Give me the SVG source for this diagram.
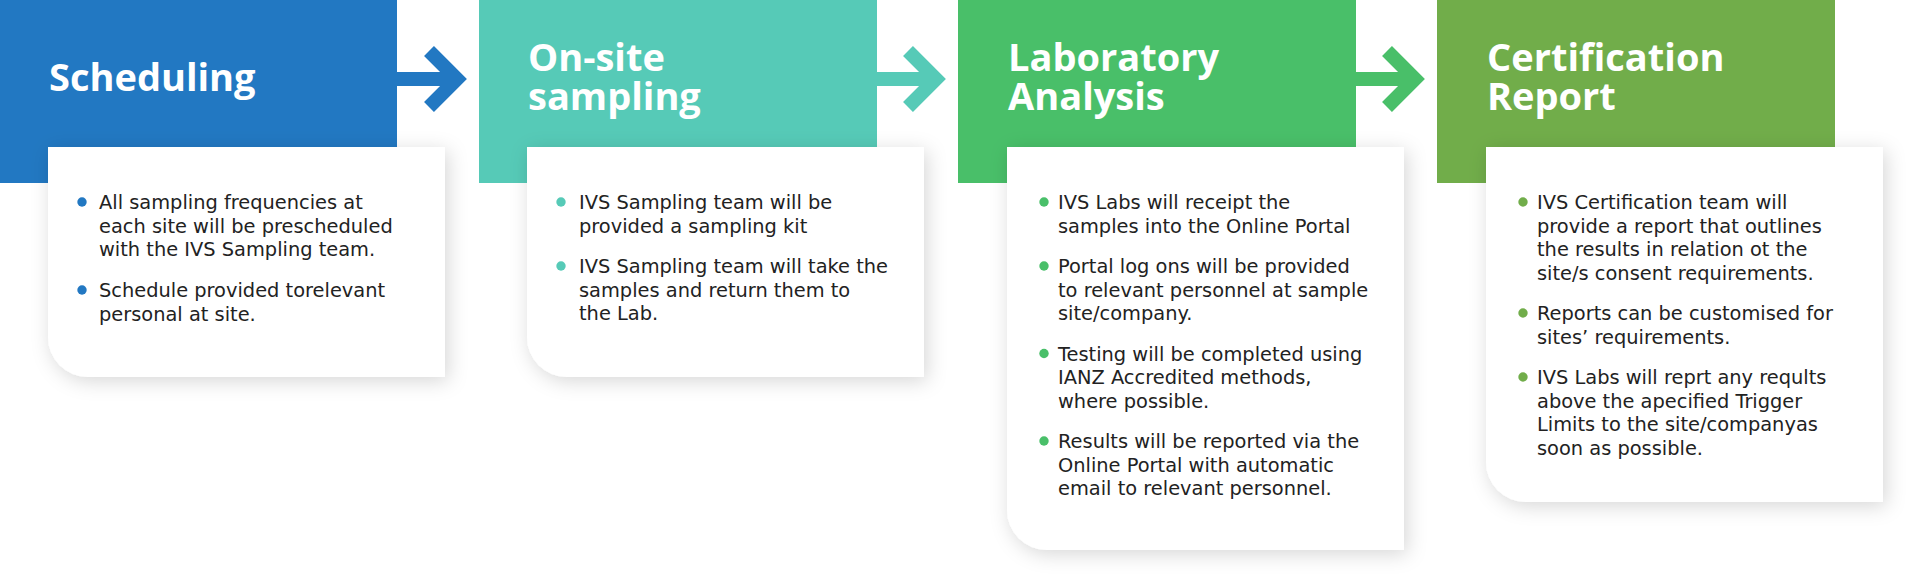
<svg xmlns="http://www.w3.org/2000/svg" width="1920" height="587" viewBox="0 0 1920 587">
<defs>
<filter id="sh" x="-20%" y="-20%" width="140%" height="140%">
<feDropShadow dx="3" dy="4" stdDeviation="10" flood-color="#000" flood-opacity="0.16"/>
</filter>
</defs>
<style>
.title{font-family:"Open Sans","Liberation Sans",sans-serif;font-weight:700;font-size:38px;fill:#fff}
.body{font-family:"DejaVu Sans","Liberation Sans",sans-serif;font-size:19.4px;fill:#222}
.card{fill:#fff;filter:url(#sh)}
.arr{fill:none;stroke-width:14}
.c1{fill:#2278C2}.s1{stroke:#2278C2}
.c2{fill:#56CAB7}.s2{stroke:#56CAB7}
.c3{fill:#49BF69}.s3{stroke:#49BF69}
.c4{fill:#71AD4A}
</style>
<rect width="1920" height="587" fill="#fff"/>
<g id="connectors">
<path class="arr s1" d="M397 79H458M429 51L457 79L429 107"/>
<path class="arr s2" d="M877 79H937M908 51L936 79L908 107"/>
<path class="arr s3" d="M1356 79H1416M1387 51L1415 79L1387 107"/>
</g>
<g id="scheduling">
<rect class="c1" x="0" y="0" width="397" height="183"/>
<text class="title" x="49" y="91">Scheduling</text>
<path class="card" d="M48 147H445V377H88A40 40 0 0 1 48 337Z"/>
<circle class="c1" cx="82" cy="202" r="4.7"/>
<text class="body" x="99" y="209">All sampling frequencies at</text>
<text class="body" x="99" y="232.5">each site will be prescheduled</text>
<text class="body" x="99" y="256">with the IVS Sampling team.</text>
<circle class="c1" cx="82" cy="290" r="4.7"/>
<text class="body" x="99" y="297">Schedule provided torelevant</text>
<text class="body" x="99" y="320.5">personal at site.</text>
</g>
<g id="onsite">
<rect class="c2" x="479" y="0" width="398" height="183"/>
<text class="title"><tspan x="528" y="71">On-site</tspan><tspan x="528" y="110">sampling</tspan></text>
<path class="card" d="M527 147H924V377H567A40 40 0 0 1 527 337Z"/>
<circle class="c2" cx="561" cy="202" r="4.7"/>
<text class="body" x="579" y="209">IVS Sampling team will be</text>
<text class="body" x="579" y="232.5">provided a sampling kit</text>
<circle class="c2" cx="561" cy="266" r="4.7"/>
<text class="body" x="579" y="273">IVS Sampling team will take the</text>
<text class="body" x="579" y="296.5">samples and return them to</text>
<text class="body" x="579" y="320">the Lab.</text>
</g>
<g id="laboratory">
<rect class="c3" x="958" y="0" width="398" height="183"/>
<text class="title"><tspan x="1008" y="71">Laboratory</tspan><tspan x="1008" y="110">Analysis</tspan></text>
<path class="card" d="M1007 147H1404V550H1047A40 40 0 0 1 1007 510Z"/>
<circle class="c3" cx="1044" cy="202" r="4.7"/>
<text class="body" x="1058" y="209">IVS Labs will receipt the</text>
<text class="body" x="1058" y="232.5">samples into the Online Portal</text>
<circle class="c3" cx="1044" cy="266" r="4.7"/>
<text class="body" x="1058" y="273">Portal log ons will be provided</text>
<text class="body" x="1058" y="296.5">to relevant personnel at sample</text>
<text class="body" x="1058" y="320">site/company.</text>
<circle class="c3" cx="1044" cy="353.5" r="4.7"/>
<text class="body" x="1058" y="360.5">Testing will be completed using</text>
<text class="body" x="1058" y="384">IANZ Accredited methods,</text>
<text class="body" x="1058" y="407.5">where possible.</text>
<circle class="c3" cx="1044" cy="441" r="4.7"/>
<text class="body" x="1058" y="448">Results will be reported via the</text>
<text class="body" x="1058" y="471.5">Online Portal with automatic</text>
<text class="body" x="1058" y="495">email to relevant personnel.</text>
</g>
<g id="certification">
<rect class="c4" x="1437" y="0" width="398" height="183"/>
<text class="title"><tspan x="1487" y="71">Certification</tspan><tspan x="1487" y="110">Report</tspan></text>
<path class="card" d="M1486 147H1883V502H1526A40 40 0 0 1 1486 462Z"/>
<circle class="c4" cx="1523" cy="202" r="4.7"/>
<text class="body" x="1537" y="209">IVS Certification team will</text>
<text class="body" x="1537" y="232.5">provide a report that outlines</text>
<text class="body" x="1537" y="256">the results in relation ot the</text>
<text class="body" x="1537" y="279.5">site/s consent requirements.</text>
<circle class="c4" cx="1523" cy="313" r="4.7"/>
<text class="body" x="1537" y="320">Reports can be customised for</text>
<text class="body" x="1537" y="343.5">sites’ requirements.</text>
<circle class="c4" cx="1523" cy="377" r="4.7"/>
<text class="body" x="1537" y="384">IVS Labs will reprt any reqults</text>
<text class="body" x="1537" y="407.5">above the apecified Trigger</text>
<text class="body" x="1537" y="431">Limits to the site/companyas</text>
<text class="body" x="1537" y="454.5">soon as possible.</text>
</g>
</svg>
